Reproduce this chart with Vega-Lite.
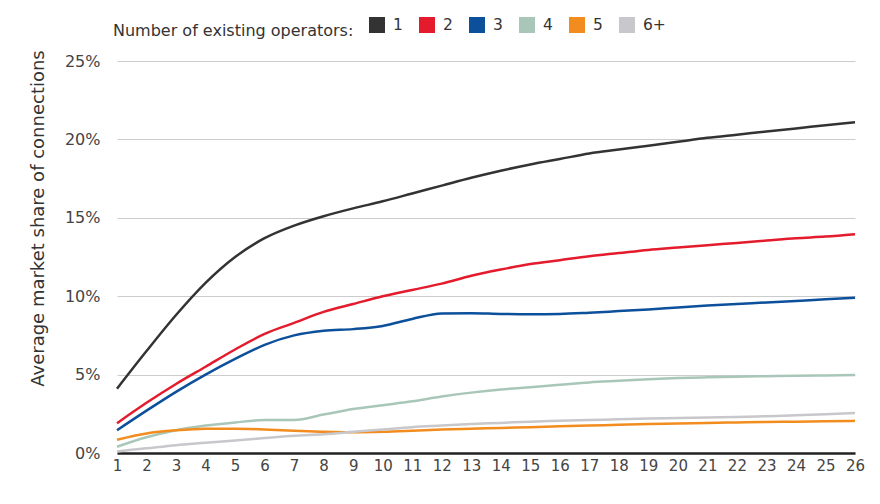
{
  "$schema": "https://vega.github.io/schema/vega-lite/v6.json",
  "width": 738,
  "height": 392,
  "autosize": {"type": "none"},
  "padding": {"left": 117, "top": 61, "right": 25, "bottom": 51},
  "background": "white",
  "config": {
    "view": {"stroke": null},
    "font": "DejaVu Sans"
  },
  "datasets": {
    "d": [
      {"s":"1","x":1,"v":4.1},{"s":"1","x":2,"v":6.5},{"s":"1","x":3,"v":8.8},{"s":"1","x":4,"v":10.85},{"s":"1","x":5,"v":12.5},{"s":"1","x":6,"v":13.7},{"s":"1","x":7,"v":14.5},{"s":"1","x":8,"v":15.1},{"s":"1","x":9,"v":15.6},{"s":"1","x":10,"v":16.05},{"s":"1","x":11,"v":16.55},{"s":"1","x":12,"v":17.05},{"s":"1","x":13,"v":17.55},{"s":"1","x":14,"v":18.0},{"s":"1","x":15,"v":18.4},{"s":"1","x":16,"v":18.75},{"s":"1","x":17,"v":19.1},{"s":"1","x":18,"v":19.35},{"s":"1","x":19,"v":19.6},{"s":"1","x":20,"v":19.85},{"s":"1","x":21,"v":20.1},{"s":"1","x":22,"v":20.3},{"s":"1","x":23,"v":20.5},{"s":"1","x":24,"v":20.7},{"s":"1","x":25,"v":20.9},{"s":"1","x":26,"v":21.1},
      {"s":"2","x":1,"v":1.9},{"s":"2","x":2,"v":3.2},{"s":"2","x":3,"v":4.4},{"s":"2","x":4,"v":5.5},{"s":"2","x":5,"v":6.6},{"s":"2","x":6,"v":7.6},{"s":"2","x":7,"v":8.3},{"s":"2","x":8,"v":9.0},{"s":"2","x":9,"v":9.5},{"s":"2","x":10,"v":10.0},{"s":"2","x":11,"v":10.4},{"s":"2","x":12,"v":10.8},{"s":"2","x":13,"v":11.3},{"s":"2","x":14,"v":11.7},{"s":"2","x":15,"v":12.05},{"s":"2","x":16,"v":12.3},{"s":"2","x":17,"v":12.55},{"s":"2","x":18,"v":12.75},{"s":"2","x":19,"v":12.95},{"s":"2","x":20,"v":13.1},{"s":"2","x":21,"v":13.25},{"s":"2","x":22,"v":13.4},{"s":"2","x":23,"v":13.55},{"s":"2","x":24,"v":13.7},{"s":"2","x":25,"v":13.8},{"s":"2","x":26,"v":13.95},
      {"s":"3","x":1,"v":1.45},{"s":"3","x":2,"v":2.7},{"s":"3","x":3,"v":3.9},{"s":"3","x":4,"v":5.0},{"s":"3","x":5,"v":6.0},{"s":"3","x":6,"v":6.9},{"s":"3","x":7,"v":7.5},{"s":"3","x":8,"v":7.8},{"s":"3","x":9,"v":7.9},{"s":"3","x":10,"v":8.1},{"s":"3","x":11,"v":8.55},{"s":"3","x":12,"v":8.9},{"s":"3","x":13,"v":8.92},{"s":"3","x":14,"v":8.87},{"s":"3","x":15,"v":8.85},{"s":"3","x":16,"v":8.87},{"s":"3","x":17,"v":8.95},{"s":"3","x":18,"v":9.05},{"s":"3","x":19,"v":9.15},{"s":"3","x":20,"v":9.28},{"s":"3","x":21,"v":9.4},{"s":"3","x":22,"v":9.5},{"s":"3","x":23,"v":9.6},{"s":"3","x":24,"v":9.7},{"s":"3","x":25,"v":9.8},{"s":"3","x":26,"v":9.9},
      {"s":"4","x":1,"v":0.4},{"s":"4","x":2,"v":1.0},{"s":"4","x":3,"v":1.45},{"s":"4","x":4,"v":1.75},{"s":"4","x":5,"v":1.95},{"s":"4","x":6,"v":2.1},{"s":"4","x":7,"v":2.1},{"s":"4","x":8,"v":2.45},{"s":"4","x":9,"v":2.8},{"s":"4","x":10,"v":3.05},{"s":"4","x":11,"v":3.3},{"s":"4","x":12,"v":3.6},{"s":"4","x":13,"v":3.85},{"s":"4","x":14,"v":4.05},{"s":"4","x":15,"v":4.2},{"s":"4","x":16,"v":4.35},{"s":"4","x":17,"v":4.5},{"s":"4","x":18,"v":4.6},{"s":"4","x":19,"v":4.7},{"s":"4","x":20,"v":4.78},{"s":"4","x":21,"v":4.83},{"s":"4","x":22,"v":4.87},{"s":"4","x":23,"v":4.9},{"s":"4","x":24,"v":4.93},{"s":"4","x":25,"v":4.95},{"s":"4","x":26,"v":4.97},
      {"s":"5","x":1,"v":0.85},{"s":"5","x":2,"v":1.25},{"s":"5","x":3,"v":1.45},{"s":"5","x":4,"v":1.55},{"s":"5","x":5,"v":1.55},{"s":"5","x":6,"v":1.5},{"s":"5","x":7,"v":1.42},{"s":"5","x":8,"v":1.35},{"s":"5","x":9,"v":1.32},{"s":"5","x":10,"v":1.35},{"s":"5","x":11,"v":1.42},{"s":"5","x":12,"v":1.5},{"s":"5","x":13,"v":1.55},{"s":"5","x":14,"v":1.6},{"s":"5","x":15,"v":1.65},{"s":"5","x":16,"v":1.7},{"s":"5","x":17,"v":1.75},{"s":"5","x":18,"v":1.8},{"s":"5","x":19,"v":1.85},{"s":"5","x":20,"v":1.88},{"s":"5","x":21,"v":1.92},{"s":"5","x":22,"v":1.95},{"s":"5","x":23,"v":1.98},{"s":"5","x":24,"v":2.0},{"s":"5","x":25,"v":2.03},{"s":"5","x":26,"v":2.05},
      {"s":"6+","x":1,"v":0.1},{"s":"6+","x":2,"v":0.3},{"s":"6+","x":3,"v":0.5},{"s":"6+","x":4,"v":0.65},{"s":"6+","x":5,"v":0.8},{"s":"6+","x":6,"v":0.95},{"s":"6+","x":7,"v":1.1},{"s":"6+","x":8,"v":1.2},{"s":"6+","x":9,"v":1.35},{"s":"6+","x":10,"v":1.5},{"s":"6+","x":11,"v":1.65},{"s":"6+","x":12,"v":1.75},{"s":"6+","x":13,"v":1.85},{"s":"6+","x":14,"v":1.92},{"s":"6+","x":15,"v":2.0},{"s":"6+","x":16,"v":2.05},{"s":"6+","x":17,"v":2.1},{"s":"6+","x":18,"v":2.15},{"s":"6+","x":19,"v":2.2},{"s":"6+","x":20,"v":2.23},{"s":"6+","x":21,"v":2.27},{"s":"6+","x":22,"v":2.3},{"s":"6+","x":23,"v":2.35},{"s":"6+","x":24,"v":2.4},{"s":"6+","x":25,"v":2.47},{"s":"6+","x":26,"v":2.55}
    ]
  },
  "data": {"name": "d"},
  "mark": {"type": "line", "interpolate": "monotone", "strokeWidth": 2.5},
  "encoding": {
    "x": {
      "field": "x", "type": "quantitative",
      "scale": {"domain": [1, 26], "nice": false, "zero": false},
      "axis": {
        "title": null, "values": [1,2,3,4,5,6,7,8,9,10,11,12,13,14,15,16,17,18,19,20,21,22,23,24,25,26],
        "grid": false, "ticks": false, "domainColor": "#222222", "domainWidth": 2.5,
        "labelFontSize": 15, "labelColor": "#444444", "labelPadding": 5, "labelFlush": false
      }
    },
    "y": {
      "field": "v", "type": "quantitative",
      "scale": {"domain": [0, 25], "nice": false},
      "axis": {
        "values": [0, 5, 10, 15, 20, 25],
        "labelExpr": "datum.value + '%'",
        "title": "Average market share of connections",
        "titleFontSize": 18, "titleFontWeight": "normal", "titleColor": "#333333",
        "titleX": -79, "titleY": 157, "titleAngle": -90, "titleAlign": "center", "titleBaseline": "middle",
        "domain": false, "ticks": false,
        "gridColor": "#cccccc", "gridWidth": 1,
        "labelFontSize": 16, "labelColor": "#444444", "labelPadding": 17
      }
    },
    "color": {
      "field": "s", "type": "nominal",
      "sort": ["1","2","3","4","5","6+"],
      "scale": {"domain": ["1","2","3","4","5","6+"], "range": ["#333333", "#e31b2c", "#0c4f9a", "#a9c7b9", "#f28c1e", "#c8c8cc"]},
      "legend": {
        "title": "Number of existing operators:",
        "orient": "none", "legendX": -4, "legendY": -44,
        "direction": "horizontal", "titleOrient": "left", "titleLimit": 400,
        "titleFontSize": 16, "titleFontWeight": "normal", "titleColor": "#333333", "titlePadding": 15,
        "symbolType": "square", "symbolSize": 64, "symbolStrokeWidth": 8, "symbolOpacity": 1,
        "labelFontSize": 15.5, "labelColor": "#333333", "labelOffset": 8, "columnPadding": 4
      }
    }
  }
}
